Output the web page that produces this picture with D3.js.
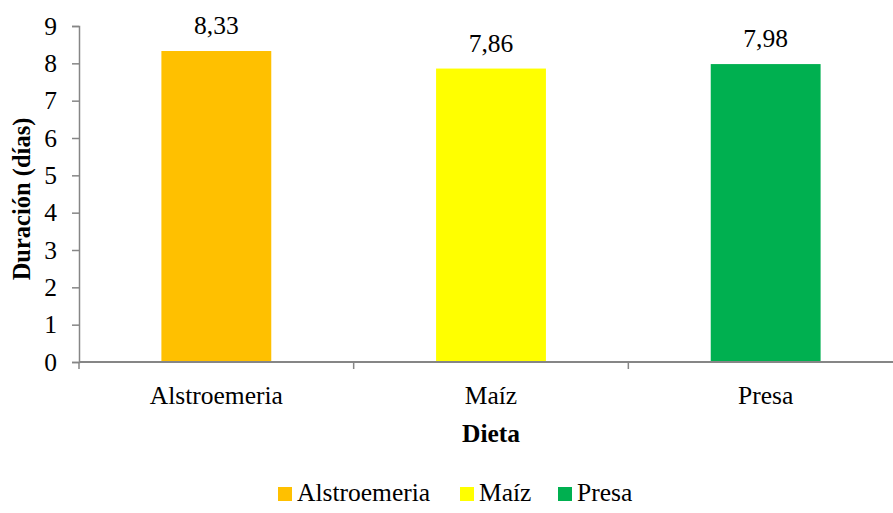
<!DOCTYPE html>
<html>
<head>
<meta charset="utf-8">
<script src="https://cdn.jsdelivr.net/npm/d3@7/dist/d3.min.js"></script>
<style>
  html, body { margin: 0; padding: 0; background: #fff; }
  svg { display: block; }
</style>
</head>
<body>
<svg id="chart" width="893" height="513" font-family="Liberation Serif, Times New Roman, serif"></svg>
<script>
// Duración media por dieta
const categories = ["Alstroemeria", "Maíz", "Presa"];
const values = [8.33, 7.86, 7.98];
const labels = ["8,33", "7,86", "7,98"];
const colors = ["#FFC000", "#FFFF00", "#00B050"];
const yTicks = [0, 1, 2, 3, 4, 5, 6, 7, 8, 9];

const svg = d3.select("#chart");
const plotLeft = 79, plotRight = 903, plotTop = 26, plotBottom = 362;
const axisColor = "#868686";
const fontSize = 25.5;

const x = d3.scaleBand().domain(categories).range([plotLeft, plotRight]).padding(0);
const y = d3.scaleLinear().domain([0, 9]).range([plotBottom, plotTop]);
const barW = x.bandwidth() * 0.4;

// bars
svg.selectAll("rect.bar").data(categories).enter().append("rect")
  .attr("class", "bar")
  .attr("x", (d) => x(d) + (x.bandwidth() - barW) / 2)
  .attr("y", (d, i) => y(values[i]))
  .attr("width", barW)
  .attr("height", (d, i) => y(0) - y(values[i]))
  .attr("fill", (d, i) => colors[i]);

// value labels
svg.selectAll("text.val").data(categories).enter().append("text")
  .attr("class", "val")
  .attr("x", (d) => x(d) + x.bandwidth() / 2)
  .attr("y", (d, i) => y(values[i]) - 17)
  .attr("text-anchor", "middle")
  .attr("font-size", fontSize)
  .attr("fill", "#000")
  .text((d, i) => labels[i]);

// y axis
const yAxis = d3.axisLeft(y).tickValues(yTicks).tickSize(7).tickPadding(15).tickFormat(d3.format("d"));
const gy = svg.append("g").attr("transform", `translate(${plotLeft},0)`).call(yAxis);
gy.attr("font-family", null);
gy.select(".domain").attr("stroke", axisColor).attr("stroke-width", 1.5);
gy.selectAll(".tick line").attr("stroke", axisColor).attr("stroke-width", 1.5);
gy.selectAll(".tick text").attr("font-size", fontSize).attr("fill", "#000");

// x axis with category separators
const boundaries = [plotLeft, x("Maíz"), x("Presa"), plotRight];
const gx = svg.append("g");
gx.append("line").attr("x1", plotLeft).attr("x2", plotRight).attr("y1", plotBottom).attr("y2", plotBottom)
  .attr("stroke", axisColor).attr("stroke-width", 2);
gx.selectAll("line.tk").data(boundaries).enter().append("line")
  .attr("class", "tk")
  .attr("x1", (d) => d).attr("x2", (d) => d)
  .attr("y1", plotBottom).attr("y2", plotBottom + 7)
  .attr("stroke", axisColor).attr("stroke-width", 1.5);
gx.selectAll("text.cat").data(categories).enter().append("text")
  .attr("class", "cat")
  .attr("x", (d) => x(d) + x.bandwidth() / 2)
  .attr("y", 404)
  .attr("text-anchor", "middle")
  .attr("font-size", fontSize)
  .text((d) => d);

// axis titles
svg.append("text")
  .attr("x", (plotLeft + plotRight) / 2).attr("y", 442)
  .attr("text-anchor", "middle").attr("font-size", fontSize).attr("font-weight", "bold")
  .text("Dieta");
svg.append("text")
  .attr("transform", `translate(30,${(plotTop + plotBottom) / 2 + 5}) rotate(-90)`)
  .attr("text-anchor", "middle").attr("font-size", 24.5).attr("font-weight", "bold")
  .text("Duración (días)");

// legend
const legendX = [278, 460, 558];
const lg = svg.selectAll("g.leg").data(categories).enter().append("g")
  .attr("class", "leg")
  .attr("transform", (d, i) => `translate(${legendX[i]},487)`);
lg.append("rect").attr("width", 14).attr("height", 14).attr("fill", (d, i) => colors[i]);
lg.append("text").attr("x", 19).attr("y", 14).attr("font-size", fontSize).text((d) => d);
</script>
</body>
</html>
